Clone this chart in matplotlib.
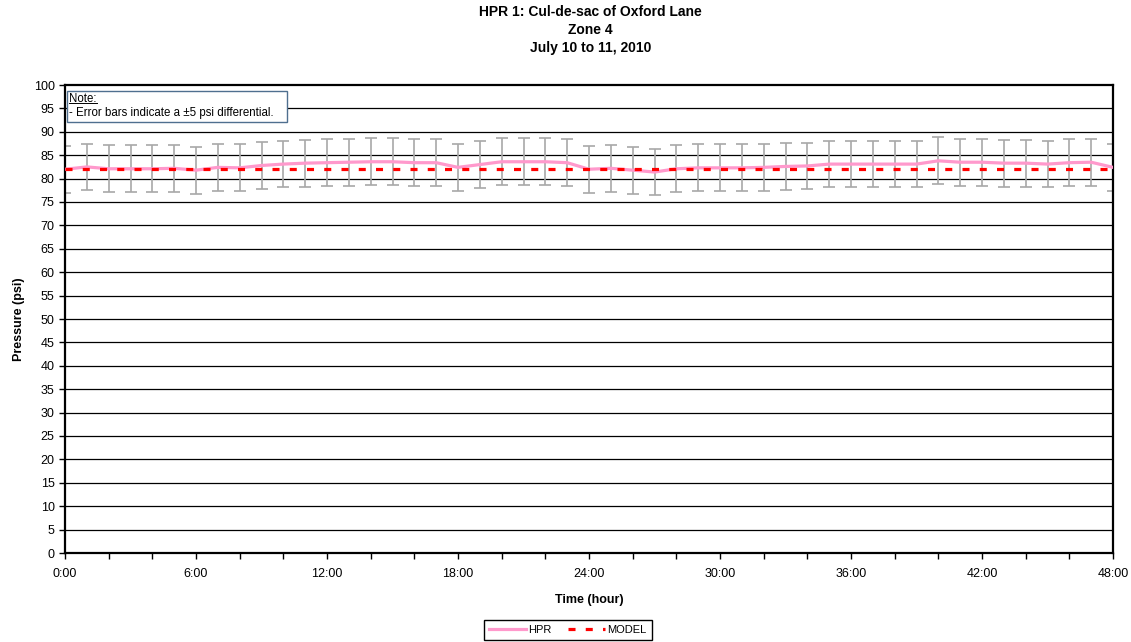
import matplotlib
matplotlib.use('Agg')
import matplotlib.pyplot as plt
from matplotlib.lines import Line2D
from matplotlib.patches import Rectangle

plt.rcParams['font.family'] = ['Liberation Sans', 'DejaVu Sans']

# hourly readings, 0:00 to 48:00
hours = list(range(0, 49))
hpr = [82.0, 82.5, 82.1, 82.1, 82.1, 82.2, 81.8, 82.4, 82.3, 82.8,
       83.1, 83.3, 83.4, 83.5, 83.6, 83.6, 83.4, 83.4, 82.4, 83.0,
       83.6, 83.6, 83.6, 83.4, 82.0, 82.2, 81.8, 81.4, 82.1, 82.3,
       82.3, 82.3, 82.4, 82.6, 82.7, 83.1, 83.1, 83.1, 83.1, 83.1,
       83.8, 83.5, 83.5, 83.3, 83.3, 83.1, 83.4, 83.5, 82.4]
model = [82.0] * len(hours)
err = 5

xtick_pos = [0, 6, 12, 18, 24, 30, 36, 42, 48]
xtick_labels = ['0:00', '6:00', '12:00', '18:00', '24:00', '30:00', '36:00', '42:00', '48:00']

fig = plt.figure(figsize=(11.31, 6.42), dpi=100)
ax = fig.add_axes([65 / 1131, 89 / 642, (1113 - 65) / 1131, (553 - 85) / 642])

for y in range(5, 100, 5):
    ax.axhline(y, color='black', lw=0.9, zorder=1)

ax.errorbar(hours, hpr, yerr=err, fmt='none', ecolor='#a8a8a8', elinewidth=1.2,
            capsize=4, capthick=1.2, zorder=2)
ax.plot(hours, hpr, color='#ff99cc', lw=2.3, label='HPR', zorder=3)
ax.plot(hours, model, color='red', lw=2.3, ls=(0, (2.2, 3.2)), label='MODEL', zorder=4)

ax.set_xlim(0, 48)
ax.set_ylim(0, 100)
ax.set_yticks(range(0, 101, 5))
ax.set_xticks(xtick_pos)
ax.set_xticklabels(xtick_labels)
ax.set_xticks(range(0, 49, 2), minor=True)
ax.tick_params(axis='both', direction='out', labelsize=9, length=4, width=1, color='black')
ax.tick_params(axis='x', which='minor', length=4, width=1)
ax.tick_params(axis='x', pad=7)
for s in ax.spines.values():
    s.set_linewidth(1.6)
    s.set_color('black')

ax.set_xlabel('Time (hour)', fontsize=9, fontweight='bold', labelpad=10)
ax.set_ylabel('Pressure (psi)', fontsize=9, fontweight='bold', labelpad=6)

# note box
ax.add_patch(Rectangle((0.002, 0.921), 0.210, 0.066, transform=ax.transAxes,
                       facecolor='white', edgecolor='#4f6f8f', lw=1, zorder=5))
note_head = ax.text(0.004, 0.982, 'Note:', transform=ax.transAxes, fontsize=8.3,
                    va='top', ha='left', zorder=6)
ax.text(0.004, 0.928, '- Error bars indicate a \u00b15 psi differential.',
        transform=ax.transAxes, fontsize=8.3, va='bottom', ha='left', zorder=6)

fig.text(0.522, 1 - 30 / 642, 'HPR 1: Cul-de-sac of Oxford Lane\nZone 4\nJuly 10 to 11, 2010',
         ha='center', va='center', fontsize=10, fontweight='bold', linespacing=1.35)

leg = fig.legend(loc='center', bbox_to_anchor=(568 / 1131, 1 - 630 / 642), ncol=2,
                 fontsize=8, frameon=True, fancybox=False, framealpha=1,
                 edgecolor='black', handlelength=3.3, handletextpad=0.2,
                 columnspacing=1.5, borderpad=0.45)
leg.get_frame().set_linewidth(1)

# underline "Note:"
fig.canvas.draw()
bb = note_head.get_window_extent().transformed(fig.transFigure.inverted())
fig.add_artist(Line2D([bb.x0, bb.x1], [bb.y0 + 0.003, bb.y0 + 0.003], color='black',
                      lw=0.7, transform=fig.transFigure, zorder=7))

fig.savefig('out.png', dpi=100)
